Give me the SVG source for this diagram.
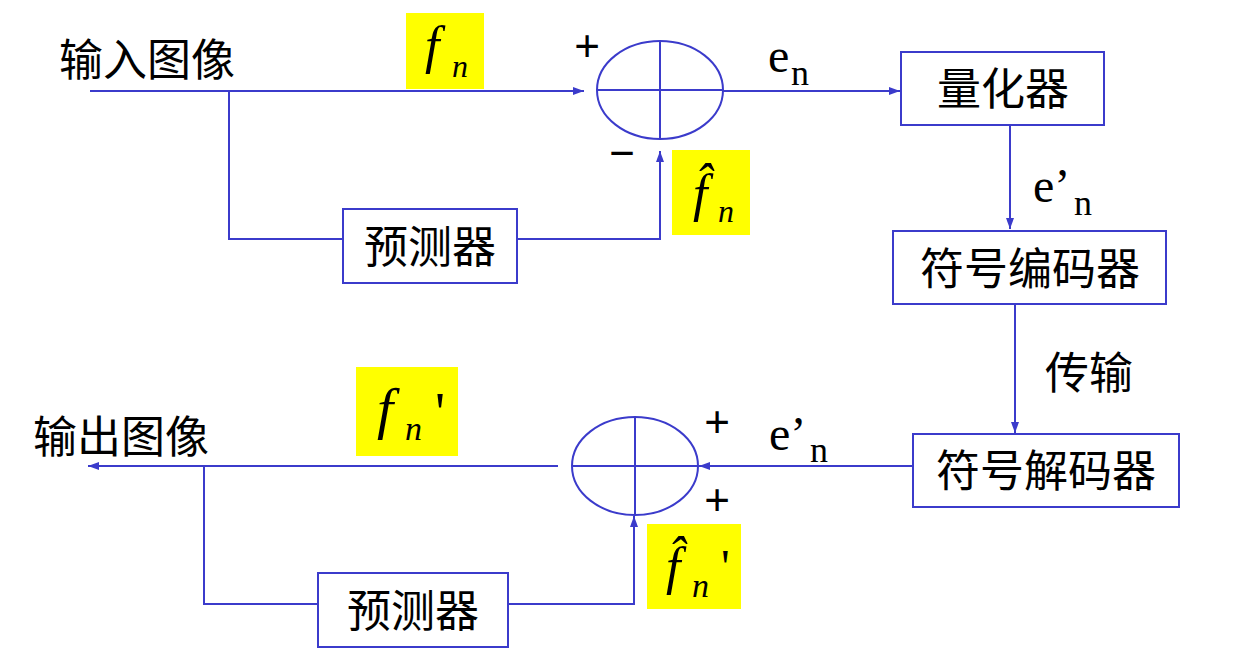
<svg xmlns="http://www.w3.org/2000/svg" width="1237" height="668" viewBox="0 0 1237 668">
<style>
.box{fill:#fff;stroke:#3b3bcb;stroke-width:2}
.sum{fill:none;stroke:#3b3bcb;stroke-width:2}
.ln{fill:none;stroke:#3b3bcb;stroke-width:2}
.cn{font-family:"Noto Sans CJK SC","Liberation Serif",serif;font-size:44px;fill:#000;text-anchor:middle}
.lat{font-family:"Liberation Serif",serif;fill:#000}
.it{font-family:"Liberation Serif",serif;font-style:italic;fill:#000}
.sg{font-family:"Liberation Sans",sans-serif;font-size:44px;fill:#000;text-anchor:middle}
.hl{fill:#ffff00}
</style>
<defs>
<marker id="ah" markerUnits="userSpaceOnUse" markerWidth="12" markerHeight="10" refX="11" refY="5" orient="auto">
<path d="M0,1 L11,5 L0,9 z" fill="#3b3bcb"/>
</marker>
</defs>
<rect width="1237" height="668" fill="#fff"/>

<g id="connectors">
<path class="ln" d="M90,91 H584" marker-end="url(#ah)"/>
<path class="ln" d="M229,91 V239 H343"/>
<path class="ln" d="M517,239 H660 V151" marker-end="url(#ah)"/>
<path class="ln" d="M723,91 H900" marker-end="url(#ah)"/>
<path class="ln" d="M1010,125 V229" marker-end="url(#ah)"/>
<path class="ln" d="M1015,304 V433" marker-end="url(#ah)"/>
<path class="ln" d="M913,466 H699" marker-end="url(#ah)"/>
<path class="ln" d="M558,466 H88" marker-end="url(#ah)"/>
<path class="ln" d="M204,466 V604 H318"/>
<path class="ln" d="M508,604 H634 V516" marker-end="url(#ah)"/>
</g>

<g id="input-label"><text class="cn" x="147" y="76">输入图像</text></g>
<g id="output-label"><text class="cn" x="121" y="453">输出图像</text></g>

<g id="adder-top">
<ellipse class="sum" cx="660" cy="90" rx="63" ry="49"/>
<path class="ln" d="M597,90 H723 M660,41 V139"/>
<text class="sg" x="587" y="61">+</text>
<text class="sg" x="622" y="168">−</text>
</g>

<g id="adder-bottom">
<ellipse class="sum" cx="635" cy="466" rx="63" ry="49"/>
<path class="ln" d="M572,466 H698 M635,417 V515"/>
<text class="sg" x="717" y="437">+</text>
<text class="sg" x="717" y="515">+</text>
</g>

<g id="quantizer">
<rect class="box" x="901" y="52" width="203" height="73"/>
<text class="cn" x="1003" y="105">量化器</text>
</g>
<g id="encoder">
<rect class="box" x="893" y="231" width="273" height="73"/>
<text class="cn" x="1030" y="285">符号编码器</text>
</g>
<g id="decoder">
<rect class="box" x="913" y="434" width="266" height="73"/>
<text class="cn" x="1046" y="487">符号解码器</text>
</g>
<g id="predictor-top">
<rect class="box" x="343" y="209" width="174" height="74"/>
<text class="cn" x="430" y="263">预测器</text>
</g>
<g id="predictor-bottom">
<rect class="box" x="318" y="573" width="190" height="74"/>
<text class="cn" x="413" y="627">预测器</text>
</g>

<g id="label-transmit"><text class="cn" x="1089" y="389">传输</text></g>

<g id="label-en">
<text class="lat" x="768" y="72" font-size="48">e</text>
<text class="lat" x="791" y="85" font-size="36">n</text>
</g>
<g id="label-en-prime-top">
<text class="lat" x="1033" y="202" font-size="48">e’</text>
<text class="lat" x="1074" y="215" font-size="36">n</text>
</g>
<g id="label-en-prime-bottom">
<text class="lat" x="769" y="450" font-size="48">e’</text>
<text class="lat" x="810" y="462" font-size="36">n</text>
</g>

<g id="label-fn">
<rect class="hl" x="406" y="13" width="78" height="76"/>
<text class="it" x="425" y="63" font-size="52">f</text>
<text class="it" x="452" y="77" font-size="32">n</text>
</g>
<g id="label-fhat-n">
<rect class="hl" x="672" y="150" width="78" height="85"/>
<text class="it" x="693" y="211" font-size="52">f̂</text>
<text class="it" x="718" y="222" font-size="32">n</text>
</g>
<g id="label-fn-prime">
<rect class="hl" x="356" y="367" width="102" height="89"/>
<text class="it" x="377" y="428" font-size="58">f</text>
<text class="it" x="405" y="440" font-size="34">n</text>
<text class="lat" x="435" y="432" font-size="56">'</text>
</g>
<g id="label-fhat-n-prime">
<rect class="hl" x="647" y="524" width="94" height="85"/>
<text class="it" x="666" y="584" font-size="52">f̂</text>
<text class="it" x="692" y="597" font-size="34">n</text>
<text class="lat" x="721" y="583" font-size="48">'</text>
</g>
</svg>
